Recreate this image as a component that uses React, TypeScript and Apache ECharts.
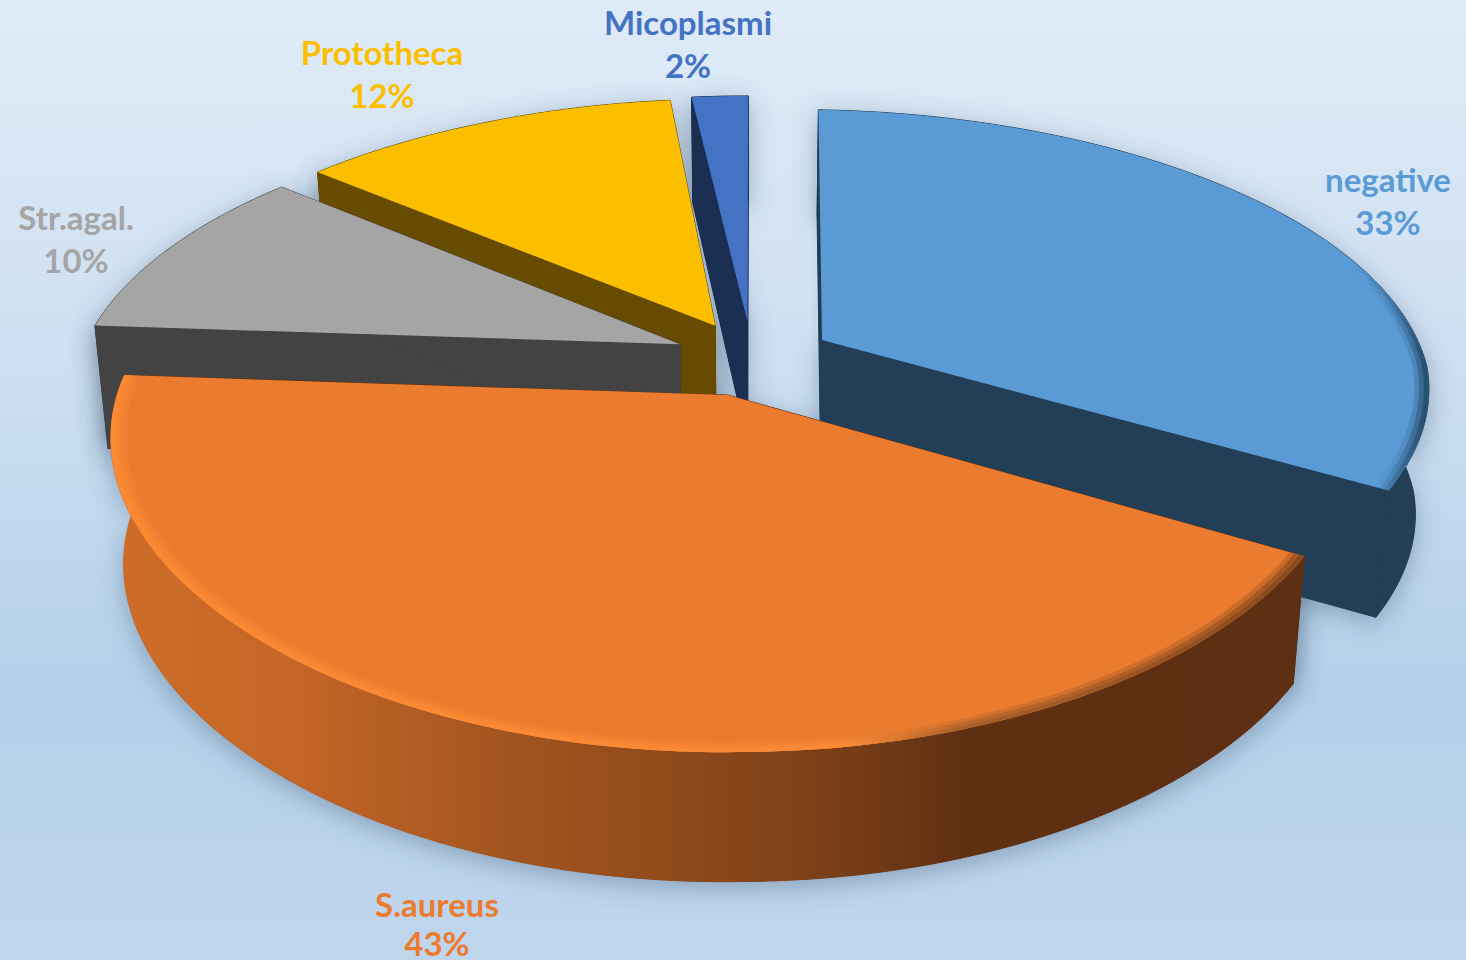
import React, { useEffect, useRef } from "react";
import * as echarts from "echarts";

const categories = ["negative", "S.aureus", "Str.agal.", "Prototheca", "Micoplasmi"];
const values = [33, 43.1, 10, 12.1, 1.8];
const topColors = ["#5B9BD5", "#EB7B2F", "#A5A5A5", "#FCBF00", "#4472C4"];
const sideColors = ["#233F57", "#5E2F12", "#434343", "#664B00", "#1B2F52"];
const stackRank = [35, 50, 30, 20, 10];
const labelCenters = [[1388, 200], [437, 925], [76, 238], [382, 73], [688, 43]];
const pctLift = [0, 4, 0, 0, 0];
const backShift = [7, 0, 7, 7, 0];
const sliceNudge = [0, -1, 2, 0, 0];

const CX = 752, CY = 358, RX = 600, RY = 280, K = 0.175, EXPLODE = 0.135;
const total = values.reduce((a, b) => a + b, 0);

type P = [number, number];
function top(x: number, f: number, i: number): P {
  const sy = 1 / (1 - K * f);
  const sx = 1 / (1 - (f < 0 ? K : 0.135) * f);
  const shift = f < 0 ? Math.min(1, -f) : 0;
  return [
    CX + shift * backShift[i] + sliceNudge[i] + RX * x * sx + 6 * Math.max(0, x),
    CY + RY * f * sy + 8 * Math.max(0, x) + 3 * shift,
  ];
}
function bottom(x: number, f: number, i: number): P {
  const [X, Y] = top(x, f, i);
  const h = f < 0 ? 125 + 17 * f : 125 + 4 * f;
  return [CX + (X - CX) * 0.98, Y + h];
}

function renderItem(params: any, api: any) {
  const i = params.dataIndex;
  const v = api.value(0);
  let before = 0;
  for (let j = 0; j < i; j++) before += values[j];
  const a0 = (before / total) * Math.PI * 2;
  const a1 = ((before + v) / total) * Math.PI * 2;
  const mid = (a0 + a1) / 2;
  const ex = Math.sin(mid) * EXPLODE;
  const ef = -Math.cos(mid) * EXPLODE;
  const steps = Math.max(6, Math.round(((a1 - a0) * 180) / Math.PI));
  const rimT: P[] = [];
  const rimB: P[] = [];
  const rimAt = (r: number): P[] => {
    const out: P[] = [];
    for (let s = 0; s <= steps; s++) {
      const a = a0 + ((a1 - a0) * s) / steps;
      out.push(top(ex + r * Math.sin(a), ef - r * Math.cos(a), i));
    }
    return out;
  };
  for (let s = 0; s <= steps; s++) {
    const a = a0 + ((a1 - a0) * s) / steps;
    rimT.push(top(ex + Math.sin(a), ef - Math.cos(a), i));
    rimB.push(bottom(ex + Math.sin(a), ef - Math.cos(a), i));
  }
  const apexT = top(ex, ef, i);
  const apexB = bottom(ex, ef, i);
  const z = stackRank[i];
  const shadow = { shadowBlur: 26, shadowColor: "rgba(60,85,115,0.42)", shadowOffsetY: 6 };
  const side = sideColors[i];
  const wallFill: any =
    i === 1
      ? new echarts.graphic.LinearGradient(
          110, 0, 1300, 0,
          [
            { offset: 0, color: "#CE6D29" },
            { offset: 0.15, color: "#C46627" },
            { offset: 0.33, color: "#A3551F" },
            { offset: 0.5, color: "#8B481A" },
            { offset: 0.62, color: "#773D16" },
            { offset: 0.72, color: "#5F2F12" },
            { offset: 1, color: "#5E2F12" },
          ],
          true
        )
      : side;
  const wallPts = [...rimT, ...rimB.slice().reverse()];
  const cutA = [apexT, rimT[0], rimB[0], apexB];
  const cutB = [apexT, rimT[steps], rimB[steps], apexB];
  const children: any[] = [
    { type: "polygon", z2: 1, shape: { points: wallPts }, style: { fill: side, ...shadow } },
    { type: "polygon", z2: 1, shape: { points: cutA }, style: { fill: side, ...shadow } },
    { type: "polygon", z2: 1, shape: { points: cutB }, style: { fill: side, ...shadow } },
    { type: "polygon", z2: z, shape: { points: cutA }, style: { fill: side, stroke: side, lineWidth: 1 } },
    { type: "polygon", z2: z, shape: { points: cutB }, style: { fill: side, stroke: side, lineWidth: 1 } },
    { type: "polygon", z2: z + 1, shape: { points: wallPts }, style: { fill: wallFill, stroke: wallFill, lineWidth: 1 } },
    { type: "polygon", z2: z + 2, shape: { points: [apexT, ...rimT] }, style: { fill: topColors[i] } },
  ];
  const bevel =
    i === 1
      ? new echarts.graphic.LinearGradient(
          110, 0, 1300, 0,
          [
            { offset: 0, color: "#FB8933" },
            { offset: 0.62, color: "#FA8A36" },
            { offset: 0.72, color: "#A8602A" },
            { offset: 1, color: "#8A4A1C" },
          ],
          true
        )
      : i === 0
      ? new echarts.graphic.LinearGradient(
          1350, 0, 1425, 0,
          [
            { offset: 0, color: "rgba(80,140,195,0)" },
            { offset: 1, color: "rgba(40,80,115,1)" },
          ],
          true
        )
      : null;
  if (bevel) {
    const layers: [number, number][] = [[0.976, 0.35], [0.984, 0.6], [0.992, 1]];
    layers.forEach(([r, opacity], n) => {
      children.push({
        type: "polygon",
        z2: z + 3 + n,
        shape: { points: [...rimT, ...rimAt(r).reverse()] },
        style: { fill: bevel, opacity },
      });
    });
  }
  const pct = Math.round((v / total) * 100);
  const textStyle = {
    x: labelCenters[i][0],
    fill: topColors[i],
    fontFamily: "Lato, 'Open Sans', sans-serif",
    fontWeight: "bold",
    fontSize: 33,
    lineHeight: 26,
    align: "center",
    verticalAlign: "middle",
  };
  children.push({
    type: "text",
    z2: 90,
    style: { ...textStyle, text: categories[i], y: labelCenters[i][1] - 21.5 },
  });
  children.push({
    type: "text",
    z2: 90,
    style: { ...textStyle, text: pct + "%", y: labelCenters[i][1] + 21.5 - pctLift[i] },
  });
  return { type: "group", children };
}

export default function App() {
  const ref = useRef<HTMLDivElement>(null);
  useEffect(() => {
    const chart = echarts.init(ref.current!, undefined, { renderer: "svg" });
    chart.setOption({
      animation: false,
      backgroundColor: new echarts.graphic.LinearGradient(0, 0, 0, 1, [
        { offset: 0, color: "#DFEBF7" },
        { offset: 0.35, color: "#CFE0F2" },
        { offset: 0.72, color: "#B4D0EA" },
        { offset: 1, color: "#C0D6ED" },
      ]),
      series: [
        {
          type: "custom",
          coordinateSystem: "none",
          renderItem,
          silent: true,
          clip: false,
          data: values.map((v) => [v]),
        },
      ],
    });
    return () => chart.dispose();
  }, []);
  return <div ref={ref} style={{ position: "fixed", left: 0, top: 0, width: 1466, height: 960 }} />;
}
